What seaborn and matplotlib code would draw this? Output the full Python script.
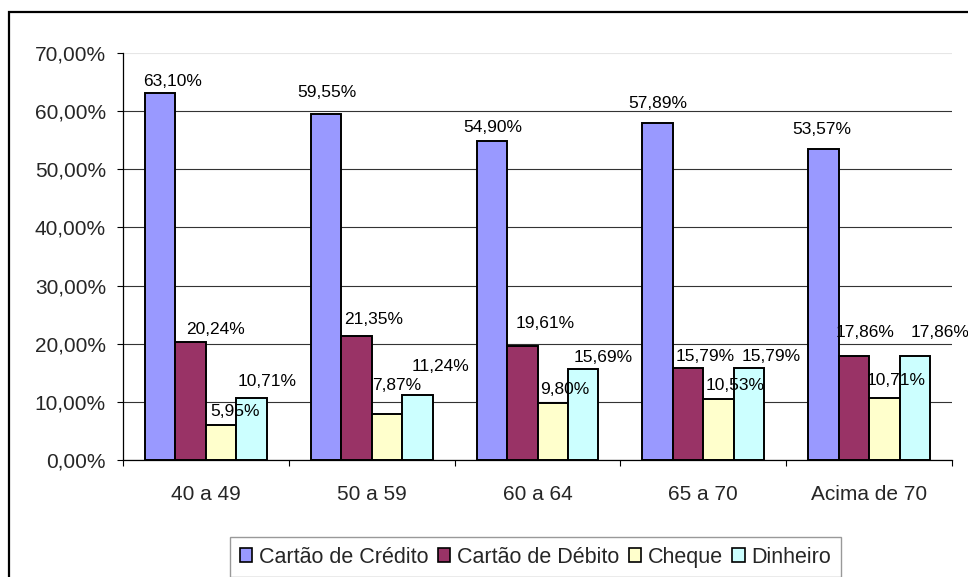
import matplotlib
matplotlib.use("Agg")
import matplotlib.pyplot as plt
from matplotlib.patches import Patch, Rectangle
from matplotlib.ticker import FixedLocator, FuncFormatter
import seaborn as sns
import pandas as pd

# ---- data ----
categories = ["40 a 49", "50 a 59", "60 a 64", "65 a 70", "Acima de 70"]
series = ["Cartão de Crédito", "Cartão de Débito", "Cheque", "Dinheiro"]
credito = [63.10, 59.55, 54.90, 57.89, 53.57]
debito = [20.24, 21.35, 19.61, 15.79, 17.86]
cheque = [5.95, 7.87, 9.80, 10.53, 10.71]
dinheiro = [10.71, 11.24, 15.69, 15.79, 17.86]
yticks = [0, 10, 20, 30, 40, 50, 60, 70]

# ---- style ----
colors = ["#9999FF", "#993366", "#FFFFCC", "#CCFFFF"]
# label nudges (pixels) relative to top-centre of each bar: (dx, dy up)
label_nudge = [
    [(12, 12), (1, 21), (1, 13), (0, 20), (-2, 19)],
    [(25, 13), (17, 16), (23, 22), (17, 12), (11, 24)],
    [(14, 14), (10, 29), (12, 14), (17, 13), (12, 17)],
    [(16, 16), (23, 28), (20, 11), (22, 12), (25, 24)],
]

sns.set_style("white")
plt.rcParams["font.family"] = ["Liberation Sans", "DejaVu Sans"]

values = [credito, debito, cheque, dinheiro]
df = pd.DataFrame({
    "faixa": [c for s in series for c in categories],
    "serie": [s for s in series for c in categories],
    "valor": [v for vals in values for v in vals],
})

W, H, DPI = 968, 577, 100
fig = plt.figure(figsize=(W / DPI, H / DPI), dpi=DPI)
ax = fig.add_axes([123 / W, 1 - 460 / H, (952 - 123) / W, (460 - 53) / H])

sns.barplot(data=df, x="faixa", y="valor", hue="serie", order=categories,
            hue_order=series, palette=colors, saturation=1, width=0.735,
            errorbar=None, edgecolor="black", linewidth=1.4, ax=ax,
            legend=False, zorder=3)

ax.set_xlim(-0.5, len(categories) - 0.5)
ax.set_ylim(0, 70)
ax.set_xlabel("")
ax.set_ylabel("")

# y axis
ax.yaxis.set_major_locator(FixedLocator(yticks))
ax.yaxis.set_major_formatter(FuncFormatter(lambda v, p: f"{v:.2f}".replace(".", ",") + "%"))
ax.tick_params(axis="y", which="major", direction="out", length=4.3, width=0.8,
               color="black", pad=8, labelsize=15, left=True)
ax.yaxis.grid(True, color="#333333", linewidth=0.8, zorder=0)
ax.set_axisbelow(True)
gl = ax.get_ygridlines()
gl[-1].set_color("#e6e6e6")

# x axis
ax.set_xticks(range(len(categories)))
ax.set_xticklabels(categories)
ax.set_xticks([i - 0.5 for i in range(len(categories) + 1)], minor=True)
ax.tick_params(axis="x", which="major", length=0, pad=18, labelsize=15)
ax.tick_params(axis="x", which="minor", direction="out", length=4.3, width=0.8,
               color="black", bottom=True)

for side in ["top", "right"]:
    ax.spines[side].set_visible(False)
for side in ["left", "bottom"]:
    ax.spines[side].set_color("black")
    ax.spines[side].set_linewidth(0.9)

# data labels
px = 72 / DPI
for si, cont in enumerate(ax.containers):
    for ci, bar in enumerate(cont):
        v = values[si][ci]
        dx, dy = label_nudge[si][ci]
        ax.annotate(f"{v:.2f}".replace(".", ",") + "%",
                    xy=(bar.get_x() + bar.get_width() / 2, bar.get_height()),
                    xytext=(dx * px, dy * px), textcoords="offset points",
                    ha="center", va="center", fontsize=12.5, color="black",
                    zorder=5, annotation_clip=False)

# legend
handles = [Patch(facecolor=c, edgecolor="black", linewidth=1.2) for c in colors]
leg = fig.legend(handles, series, loc="upper left",
                 bbox_to_anchor=(230 / W, 1 - 537 / H), bbox_transform=fig.transFigure,
                 ncol=4, fontsize=15.5, frameon=True, fancybox=False, shadow=False,
                 handlelength=0.58, handleheight=0.58, handletextpad=0.3,
                 columnspacing=0.45, borderpad=0.45, borderaxespad=0)
leg.get_frame().set_edgecolor("#808080")
leg.get_frame().set_linewidth(1.0)

# outer chart border
fig.patches.append(Rectangle((9 / W, -0.1), 1.2, 1.1 - 12 / H,
                             transform=fig.transFigure, fill=False,
                             edgecolor="black", linewidth=1.6, zorder=10))

fig.savefig("out.png", dpi=DPI)
